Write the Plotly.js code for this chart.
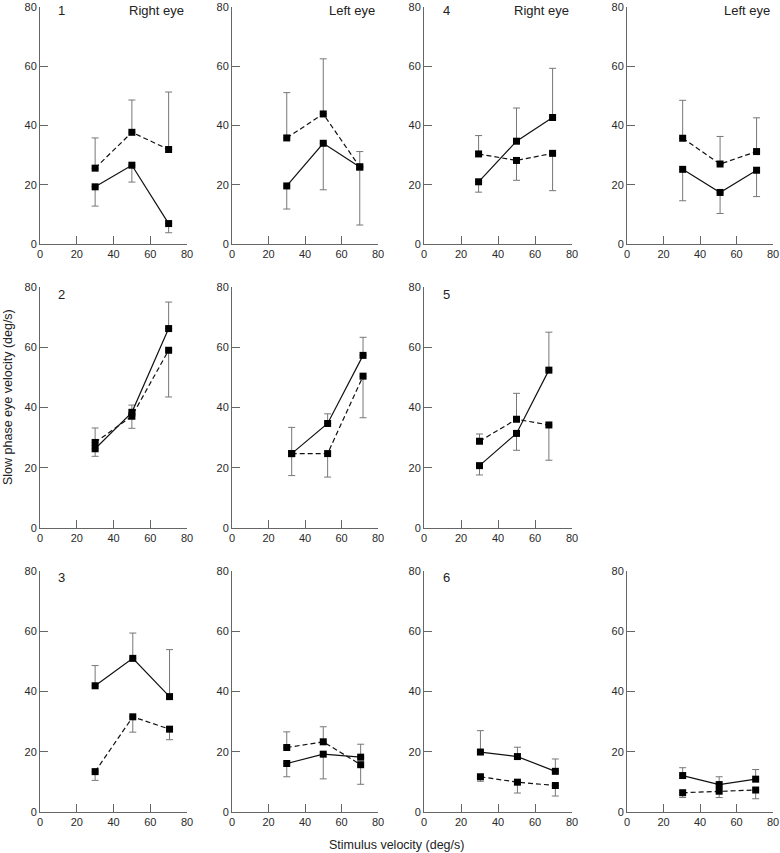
<!DOCTYPE html>
<html>
<head>
<meta charset="utf-8">
<script src="https://cdn.plot.ly/plotly-3.0.1.min.js"></script>
<style>
  html, body { margin: 0; padding: 0; background: #fff; }
  #chart { width: 780px; height: 853px; }
</style>
</head>
<body>
<div id="chart"></div>
<script>
// Stimulus velocity (deg/s) and slow phase eye velocity (deg/s).
// "ErrEnd" arrays hold the far end of each one-sided error bar.

// Patient 1
const p1r_x = [30, 50, 70];
const p1r_solid = [19.3, 26.6, 6.9];
const p1r_solidErrEnd = [12.8, 20.9, 3.8];
const p1r_dashed = [25.6, 37.7, 31.9];
const p1r_dashedErrEnd = [35.8, 48.6, 51.3];

const p1l_x = [30, 50, 70];
const p1l_solid = [19.6, 34.0, 26.0];
const p1l_solidErrEnd = [11.8, 18.3, 6.4];
const p1l_dashed = [35.8, 43.9, 26.0];
const p1l_dashedErrEnd = [51.1, 62.5, 31.2];

// Patient 4
const p4r_x = [29.5, 50, 69.5];
const p4r_solid = [21.0, 34.7, 42.7];
const p4r_solidErrEnd = [17.5, 45.9, 59.3];
const p4r_dashed = [30.4, 28.2, 30.6];
const p4r_dashedErrEnd = [36.6, 21.5, 18.0];

const p4l_x = [30.5, 51, 71];
const p4l_solid = [25.2, 17.4, 24.9];
const p4l_solidErrEnd = [14.6, 10.3, 16.0];
const p4l_dashed = [35.7, 27.0, 31.2];
const p4l_dashedErrEnd = [48.5, 36.3, 42.6];

// Patient 2
const p2r_x = [30, 50, 70];
const p2r_solid = [26.3, 38.4, 66.2];
const p2r_solidErrEnd = [23.8, 40.8, 75.0];
const p2r_dashed = [28.4, 37.1, 59.0];
const p2r_dashedErrEnd = [33.2, 33.1, 43.5];

const p2l_x = [32.7, 52.4, 71.8];
const p2l_solid = [24.7, 34.7, 57.3];
const p2l_solidErrEnd = [33.4, 37.9, 63.3];
const p2l_dashed = [24.7, 24.7, 50.4];
const p2l_dashedErrEnd = [17.4, 16.9, 36.6];

// Patient 5
const p5r_x = [30, 50, 67.5];
const p5r_solid = [20.7, 31.4, 52.4];
const p5r_solidErrEnd = [17.6, 25.8, 65.0];
const p5r_dashed = [28.8, 36.1, 34.2];
const p5r_dashedErrEnd = [31.2, 44.7, 22.5];

// Patient 3
const p3r_x = [30, 50.5, 70.5];
const p3r_solid = [41.9, 51.0, 38.3];
const p3r_solidErrEnd = [48.6, 59.4, 53.9];
const p3r_dashed = [13.4, 31.6, 27.5];
const p3r_dashedErrEnd = [10.5, 26.5, 24.0];

const p3l_x = [30, 50, 70.5];
const p3l_solid = [16.1, 19.2, 18.2];
const p3l_solidErrEnd = [11.7, 11.0, 22.5];
const p3l_dashed = [21.4, 23.3, 15.7];
const p3l_dashedErrEnd = [26.6, 28.3, 9.2];

// Patient 6
const p6r_x = [30.5, 50.5, 71];
const p6r_solid = [19.9, 18.4, 13.5];
const p6r_solidErrEnd = [27.0, 21.5, 17.6];
const p6r_dashed = [11.7, 9.9, 8.8];
const p6r_dashedErrEnd = [10.2, 6.3, 5.3];

const p6l_x = [30.5, 50.5, 70.5];
const p6l_solid = [12.1, 9.1, 10.9];
const p6l_solidErrEnd = [14.7, 11.7, 14.1];
const p6l_dashed = [6.4, 6.9, 7.3];
const p6l_dashedErrEnd = [4.8, 4.8, 4.4];

const tickVals = [0, 20, 40, 60, 80];

// panel placement in page pixels (column left/right, row top/bottom)
const W = 780, H = 853;
const cols = [[40, 187], [232, 378], [424, 572], [627, 773]];
const rows = [[7, 244], [287, 528], [571, 812]];
const labelY = [10, 294, 577];

const panels = [
  { row: 0, col: 0, num: '1', eye: 'Right eye', x: p1r_x, s: p1r_solid, se: p1r_solidErrEnd, d: p1r_dashed, de: p1r_dashedErrEnd },
  { row: 0, col: 1, num: '', eye: 'Left eye', x: p1l_x, s: p1l_solid, se: p1l_solidErrEnd, d: p1l_dashed, de: p1l_dashedErrEnd },
  { row: 0, col: 2, num: '4', eye: 'Right eye', x: p4r_x, s: p4r_solid, se: p4r_solidErrEnd, d: p4r_dashed, de: p4r_dashedErrEnd },
  { row: 0, col: 3, num: '', eye: 'Left eye', x: p4l_x, s: p4l_solid, se: p4l_solidErrEnd, d: p4l_dashed, de: p4l_dashedErrEnd },
  { row: 1, col: 0, num: '2', eye: '', x: p2r_x, s: p2r_solid, se: p2r_solidErrEnd, d: p2r_dashed, de: p2r_dashedErrEnd },
  { row: 1, col: 1, num: '', eye: '', x: p2l_x, s: p2l_solid, se: p2l_solidErrEnd, d: p2l_dashed, de: p2l_dashedErrEnd },
  { row: 1, col: 2, num: '5', eye: '', x: p5r_x, s: p5r_solid, se: p5r_solidErrEnd, d: p5r_dashed, de: p5r_dashedErrEnd },
  { row: 2, col: 0, num: '3', eye: '', x: p3r_x, s: p3r_solid, se: p3r_solidErrEnd, d: p3r_dashed, de: p3r_dashedErrEnd },
  { row: 2, col: 1, num: '', eye: '', x: p3l_x, s: p3l_solid, se: p3l_solidErrEnd, d: p3l_dashed, de: p3l_dashedErrEnd },
  { row: 2, col: 2, num: '6', eye: '', x: p6r_x, s: p6r_solid, se: p6r_solidErrEnd, d: p6r_dashed, de: p6r_dashedErrEnd },
  { row: 2, col: 3, num: '', eye: '', x: p6l_x, s: p6l_solid, se: p6l_solidErrEnd, d: p6l_dashed, de: p6l_dashedErrEnd }
];

const FONT = 'Liberation Sans, Arial, Helvetica, sans-serif';
const AXIS_COLOR = '#666';

function errorFromEnds(values, ends) {
  const plus = values.map((v, i) => Math.max(ends[i] - v, 0));
  const minus = values.map((v, i) => Math.max(v - ends[i], 0));
  return {
    type: 'data', symmetric: false, array: plus, arrayminus: minus,
    color: '#777', thickness: 1, width: 3.5
  };
}

function seriesTrace(x, y, ends, dash, ax) {
  return {
    x: x, y: y,
    xaxis: 'x' + ax, yaxis: 'y' + ax,
    type: 'scatter', mode: 'lines+markers',
    line: { color: '#111', width: 1.2, dash: dash },
    marker: { symbol: 'square', size: 7, color: '#000' },
    error_y: errorFromEnds(y, ends),
    cliponaxis: false,
    hoverinfo: 'x+y'
  };
}

const traces = [];
const layout = {
  width: W, height: H,
  margin: { l: 0, r: 0, t: 0, b: 0 },
  paper_bgcolor: '#fff', plot_bgcolor: '#fff',
  showlegend: false,
  font: { family: FONT, size: 11, color: '#333' },
  annotations: []
};

panels.forEach((p, i) => {
  const n = i + 1;
  const ax = n === 1 ? '' : String(n);
  const [x0, x1] = cols[p.col];
  const [y0, y1] = rows[p.row];
  const ly = labelY[p.row];

  traces.push(seriesTrace(p.x, p.d, p.de, '5px,3px', ax));
  traces.push(seriesTrace(p.x, p.s, p.se, 'solid', ax));

  const common = {
    range: [0, 80], tickvals: tickVals, ticks: 'inside', ticklen: 8,
    tickcolor: AXIS_COLOR, tickwidth: 1,
    showline: true, linecolor: AXIS_COLOR, linewidth: 1,
    showgrid: false, zeroline: false, fixedrange: true,
    ticklabeloverflow: 'allow',
    tickfont: { family: FONT, size: 11, color: '#2a2a2a' }
  };
  layout['xaxis' + ax] = Object.assign({}, common, {
    domain: [x0 / W, x1 / W], anchor: 'y' + ax, ticklabelstandoff: 0
  });
  layout['yaxis' + ax] = Object.assign({}, common, {
    domain: [1 - y1 / H, 1 - y0 / H], anchor: 'x' + ax
  });

  if (p.num) {
    layout.annotations.push({
      xref: 'paper', yref: 'paper', x: (x0 + 22) / W, y: 1 - ly / H,
      text: p.num, showarrow: false, xanchor: 'center', yanchor: 'middle',
      font: { family: FONT, size: 13, color: '#222' }
    });
  }
  if (p.eye) {
    layout.annotations.push({
      xref: 'paper', yref: 'paper', x: (x1 - 1) / W, y: 1 - ly / H,
      text: p.eye, showarrow: false, xanchor: 'right', yanchor: 'middle',
      font: { family: FONT, size: 13, color: '#222' }
    });
  }
});

layout.annotations.push({
  xref: 'paper', yref: 'paper', x: 8 / W, y: 1 - 397 / H,
  text: 'Slow phase eye velocity (deg/s)', textangle: -90, showarrow: false,
  xanchor: 'center', yanchor: 'middle',
  font: { family: FONT, size: 12.5, color: '#222' }
});
layout.annotations.push({
  xref: 'paper', yref: 'paper', x: 396 / W, y: 1 - 845 / H,
  text: 'Stimulus velocity (deg/s)', showarrow: false,
  xanchor: 'center', yanchor: 'middle',
  font: { family: FONT, size: 12.5, color: '#222' }
});

Plotly.newPlot('chart', traces, layout, { displayModeBar: false, staticPlot: true });
</script>
</body>
</html>
